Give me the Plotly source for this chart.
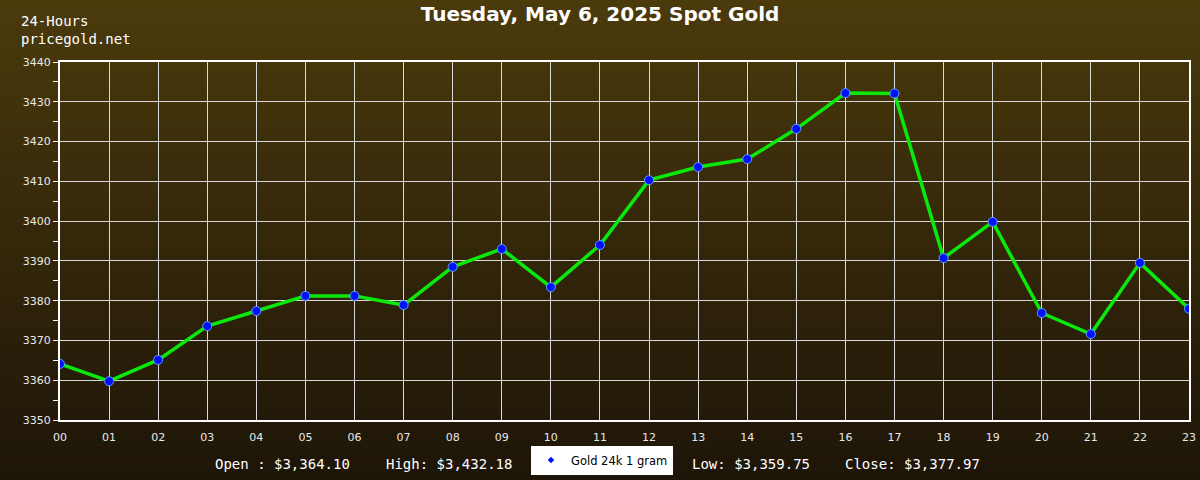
import plotly.graph_objects as go

hours = list(range(24))
hour_labels = [f"{h:02d}" for h in hours]
prices = [3364.10, 3359.75, 3365.1, 3373.6, 3377.4, 3381.2, 3381.2, 3378.9,
          3388.5, 3393.0, 3383.4, 3394.0, 3410.3, 3413.6, 3415.6, 3423.2,
          3432.18, 3432.1, 3390.7, 3399.8, 3376.9, 3371.6, 3389.5, 3377.97]
y_ticks = [3350, 3360, 3370, 3380, 3390, 3400, 3410, 3420, 3430, 3440]
stats_left = ["Open : $3,364.10", "High: $3,432.18"]
stats_right = ["Low: $3,359.75", "Close: $3,377.97"]
title_text = "Tuesday, May 6, 2025 Spot Gold"
series_name = "Gold 24k 1 gram"

W, H = 1200, 480
ML, MR, MT, MB = 60, 11, 62, 60
pw, ph = W - ML - MR, H - MT - MB


def py(pix):
    # pixel row -> paper y
    return (H - MB - pix) / ph


def px(pix):
    return (pix - ML) / pw


fig = go.Figure()
fig.add_trace(go.Scatter(
    x=hours, y=prices, mode="lines+markers", showlegend=False,
    line=dict(color="#0be80b", width=3.5),
    marker=dict(color="#0010ff", size=9, line=dict(color="#5aa0ff", width=1)),
))
fig.add_trace(go.Scatter(
    x=[None], y=[None], mode="markers", name=series_name,
    marker=dict(color="#0010ff", size=5, symbol="diamond"),
))

# background gradient
top = (75, 58, 12)
bot = (29, 21, 8)
n = 60
shapes = []
for i in range(n):
    t = i / (n - 1)
    c = tuple(round(top[k] + (bot[k] - top[k]) * t) for k in range(3))
    shapes.append(dict(type="rect", xref="paper", yref="paper",
                       x0=px(-5), x1=px(W + 5), y0=py(H * (i + 1) / n + 0.5), y1=py(H * i / n - 0.5),
                       fillcolor=f"rgb{c}", line=dict(width=0), layer="below"))

mono = "DejaVu Sans Mono"
annotations = [
    dict(text="24-Hours<br>pricegold.net", xref="paper", yref="paper",
         x=px(19), y=py(11), xanchor="left", yanchor="top",
         showarrow=False, align="left",
         font=dict(family=mono, size=14, color="white")),
]
for txt, xp in zip(stats_left + stats_right, [213, 384, 690, 843]):
    annotations.append(dict(text=txt, xref="paper", yref="paper", x=px(xp), y=py(464),
                            xanchor="left", yanchor="middle", showarrow=False,
                            font=dict(family=mono, size=14, color="white")))

fig.update_layout(
    width=W, height=H,
    margin=dict(l=ML, r=MR, t=MT, b=MB, autoexpand=False),
    paper_bgcolor="#2a200a", plot_bgcolor="rgba(0,0,0,0)",
    title=dict(text=f"<b>{title_text}</b>", x=0.5, xanchor="center", y=1 - 14 / H, yanchor="middle",
               font=dict(family="DejaVu Sans", size=20, color="white")),
    shapes=shapes, annotations=annotations,
    legend=dict(orientation="h", x=px(602), xanchor="center",
                y=py(460), yanchor="middle", bgcolor="white",
                font=dict(family="DejaVu Sans", size=11.5, color="black"),
                itemwidth=30, tracegroupgap=0),
    font=dict(family="DejaVu Sans", size=11, color="#e8e8e8"),
)
fig.update_xaxes(range=[0, 23], tickvals=hours, ticktext=hour_labels, showgrid=True, automargin=False,
                 gridcolor="#d8d8d8", gridwidth=1, showline=True, linecolor="white", linewidth=2,
                 mirror=True, ticks="", ticklabelstandoff=6, zeroline=False,
                 tickfont=dict(size=11, color="#e8e8e8"))
fig.update_yaxes(range=[3350, 3440], tickvals=y_ticks, showgrid=True, gridcolor="#d8d8d8", gridwidth=1,
                 automargin=False,
                 showline=True, linecolor="white", linewidth=2, mirror=True, ticks="outside", ticklen=5,
                 tickcolor="white", zeroline=False, tickfont=dict(size=11, color="#e8e8e8"),
                 minor=dict(dtick=5, tick0=3350, ticks="outside", ticklen=5, tickcolor="white", showgrid=False))

fig.write_html("out.html", config={"displayModeBar": False},
               post_script="document.body.style.margin='0';document.body.style.padding='0';"
                           "document.body.style.overflow='hidden';")
